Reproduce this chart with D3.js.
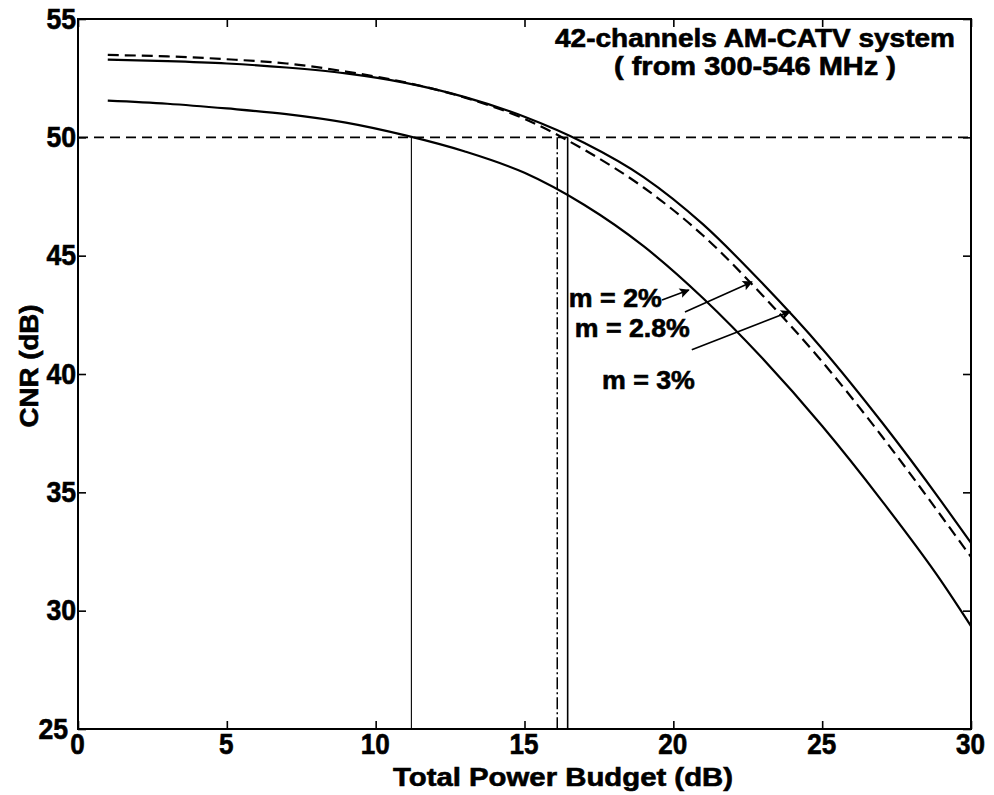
<!DOCTYPE html>
<html><head><meta charset="utf-8">
<script src="https://cdn.jsdelivr.net/npm/d3@7"></script>
<style>
html,body{margin:0;padding:0;background:#fff;}
svg{display:block;}
text{font-family:"Liberation Sans",Arial,Helvetica,sans-serif;font-weight:bold;fill:#000;stroke:#000;stroke-width:0.6px;}
</style></head><body>
<svg id="chart" width="994" height="795"></svg>
<script>
// ---- data ----
const budget  = [1, 3, 5, 7, 9, 11, 13, 15, 17, 19, 21, 23, 25, 27, 29, 30];
const cnrM2   = [51.55, 51.42, 51.22, 50.98, 50.62, 50.08, 49.4, 48.5, 47.15, 45.4, 43.2, 40.65, 37.8, 34.65, 31.25, 29.35];
const cnrM28  = [53.48, 53.42, 53.3, 53.12, 52.78, 52.32, 51.68, 50.78, 49.48, 47.88, 45.85, 43.32, 40.52, 37.38, 34.0, 32.27];
const cnrM3   = [53.28, 53.22, 53.12, 52.95, 52.7, 52.3, 51.7, 50.87, 49.77, 48.32, 46.32, 43.82, 41.07, 37.97, 34.62, 32.86];
const xTicks  = [0, 5, 10, 15, 20, 25, 30];
const yTicks  = [25, 30, 35, 40, 45, 50, 55];
const xDomain = [0, 30];
const yDomain = [25, 55];
const cnrTarget = 50;
const budgetAtTarget = [11.2, 16.1, 16.45];          // m = 2%, 2.8%, 3%
const seriesNames = ["m = 2%", "m = 2.8%", "m = 3%"];
const labelAt   = [[16.49, 42.85], [16.69, 41.57], [17.6, 39.37]];
const arrowFrom = [[19.62, 43.13], [20.39, 42.62], [20.62, 41.02]];
const arrowTo   = [[20.52, 43.55], [22.64, 43.89], [23.92, 42.64]];
const titleLines = ["42-channels AM-CATV system", "( from 300-546 MHz )"];
const xTitle = "Total Power Budget (dB)";
const yTitle = "CNR (dB)";

// ---- layout ----
const L = 78, T = 19, R = 971, B = 729;
const x = d3.scaleLinear().domain(xDomain).range([L, R]);
const y = d3.scaleLinear().domain(yDomain).range([B, T]);
const svg = d3.select('#chart');

function styleAxis(g, withText) {
  g.select('.domain').remove();
  g.selectAll('.tick line').attr('stroke', '#000').attr('stroke-width', 1.6);
  if (withText) g.selectAll('.tick text').attr('font-size', 29).attr('fill', '#000');
}
const gB = svg.append('g').attr('transform', `translate(0,${B})`)
  .call(d3.axisBottom(x).tickValues(xTicks).tickSizeInner(-8).tickSizeOuter(0).tickPadding(4).tickFormat(d3.format('d')));
styleAxis(gB, true);
gB.selectAll('.tick text').attr('transform', 'translate(-1,0) scale(0.9,1)');
const gT = svg.append('g').attr('transform', `translate(0,${T})`)
  .call(d3.axisTop(x).tickValues(xTicks).tickSizeInner(-8).tickSizeOuter(0).tickFormat(''));
styleAxis(gT, false);
const gL = svg.append('g').attr('transform', `translate(${L},0)`)
  .call(d3.axisLeft(y).tickValues(yTicks).tickSizeInner(-8).tickSizeOuter(0).tickPadding(2).tickFormat(d3.format('d')));
styleAxis(gL, true);
gL.selectAll('.tick text').attr('transform', d => d === yDomain[0] ? 'translate(-8,0) scale(0.92,1)' : 'scale(0.92,1)');
const gR = svg.append('g').attr('transform', `translate(${R},0)`)
  .call(d3.axisRight(y).tickValues(yTicks).tickSizeInner(-8).tickSizeOuter(0).tickFormat(''));
styleAxis(gR, false);

// frame
svg.append('rect').attr('x', L).attr('y', T).attr('width', R - L).attr('height', B - T)
  .attr('fill', 'none').attr('stroke', '#000').attr('stroke-width', 2);

// reference lines
svg.append('line').attr('x1', x(xDomain[0])).attr('x2', x(xDomain[1]))
  .attr('y1', y(cnrTarget)).attr('y2', y(cnrTarget))
  .attr('stroke', '#000').attr('stroke-width', 1.8).attr('stroke-dasharray', '10,6');
const vStyles = [
  {w: 1.1, dash: null},
  {w: 1.5, dash: '12,3,2,3'},
  {w: 1.6, dash: null}
];
budgetAtTarget.forEach((b, i) => {
  const ln = svg.append('line').attr('x1', x(b)).attr('x2', x(b))
    .attr('y1', y(cnrTarget)).attr('y2', y(yDomain[0]))
    .attr('stroke', '#000').attr('stroke-width', vStyles[i].w);
  if (vStyles[i].dash) ln.attr('stroke-dasharray', vStyles[i].dash);
});

// curves
const line = d3.line().x(d => x(d[0])).y(d => y(d[1])).curve(d3.curveMonotoneX);
const series = [
  {vals: cnrM2,  dash: null},
  {vals: cnrM28, dash: '11,6'},
  {vals: cnrM3,  dash: null}
];
series.forEach(s => {
  const p = svg.append('path').datum(budget.map((b, i) => [b, s.vals[i]]))
    .attr('d', line).attr('fill', 'none').attr('stroke', '#000').attr('stroke-width', 2.2);
  if (s.dash) p.attr('stroke-dasharray', s.dash);
});

// arrowhead marker
svg.append('defs').append('marker').attr('id', 'ah')
  .attr('viewBox', '0 0 10 10').attr('refX', 9).attr('refY', 5)
  .attr('markerWidth', 14).attr('markerHeight', 10).attr('markerUnits', 'userSpaceOnUse')
  .attr('orient', 'auto')
  .append('path').attr('d', 'M0,0 L10,5 L0,10 L2,5 Z').attr('fill', '#000');

// annotations
const labelLen = [93, 115, 93];
seriesNames.forEach((name, i) => {
  svg.append('text').attr('x', x(labelAt[i][0])).attr('y', y(labelAt[i][1]))
    .attr('font-size', 25).attr('textLength', labelLen[i]).attr('lengthAdjust', 'spacingAndGlyphs')
    .text(name);
  svg.append('line').attr('x1', x(arrowFrom[i][0])).attr('y1', y(arrowFrom[i][1]))
    .attr('x2', x(arrowTo[i][0])).attr('y2', y(arrowTo[i][1]))
    .attr('stroke', '#000').attr('stroke-width', 1.6).attr('marker-end', 'url(#ah)');
});

// title inside plot
const titleLen = [400, 282];
const titleY = [47, 75];
titleLines.forEach((t, i) => {
  svg.append('text').attr('x', 755).attr('y', titleY[i]).attr('text-anchor', 'middle')
    .attr('font-size', 25).attr('textLength', titleLen[i]).attr('lengthAdjust', 'spacingAndGlyphs')
    .text(t);
});

// axis titles
svg.append('text').attr('x', 563).attr('y', 786).attr('text-anchor', 'middle')
  .attr('font-size', 26).attr('textLength', 340).attr('lengthAdjust', 'spacingAndGlyphs')
  .text(xTitle);
svg.append('text').attr('transform', 'translate(38,366) rotate(-90)').attr('text-anchor', 'middle')
  .attr('font-size', 26).attr('textLength', 123).attr('lengthAdjust', 'spacingAndGlyphs')
  .text(yTitle);
</script>
</body></html>
